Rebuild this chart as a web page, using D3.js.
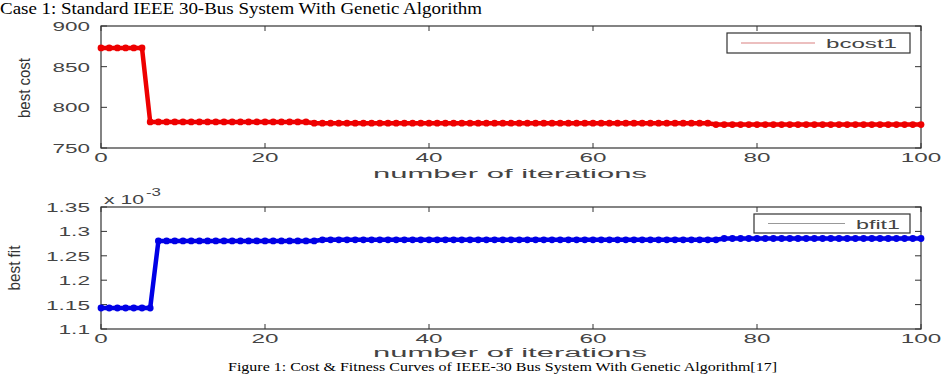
<!DOCTYPE html>
<html><head><meta charset="utf-8">
<script src="https://cdn.jsdelivr.net/npm/d3@7/dist/d3.min.js"></script>
<style>body{margin:0;background:#fff;}svg{display:block;}</style>
</head><body>
<svg id="c" width="948" height="374"></svg>
<script>
const iterations = d3.range(0, 101);
const bcost1 = [
873,873,873,873,873,873,782,782,782,782,
782,782,782,782,782,782,782,782,782,782,
782,782,782,782,782,782,780.5,780.5,780.5,780.5,
780.5,780.5,780.5,780.5,780.5,780.5,780.5,780.5,780.5,780.5,
780.5,780.5,780.5,780.5,780.5,780.5,780.5,780.5,780.5,780.5,
780.5,780.5,780.5,780.5,780.5,780.5,780.5,780.5,780.5,780.5,
780.5,780.5,780.5,780.5,780.5,780.5,780.5,780.5,780.5,780.5,
780.5,780.5,780.5,780.5,780.5,778.8,778.8,778.8,778.8,778.8,
778.8,778.8,778.8,778.8,778.8,778.8,778.8,778.8,778.8,778.8,
778.8,778.8,778.8,778.8,778.8,778.8,778.8,778.8,778.8,778.8,
778.8];
const bfit1 = [
1.143,1.143,1.143,1.143,1.143,1.143,1.143,1.2805,1.2805,1.2805,
1.2805,1.2805,1.2805,1.2805,1.2805,1.2805,1.2805,1.2805,1.2805,1.2805,
1.2805,1.2805,1.2805,1.2805,1.2805,1.2805,1.2805,1.2828,1.2828,1.2828,
1.2828,1.2828,1.2828,1.2828,1.2828,1.2828,1.2828,1.2828,1.2828,1.2828,
1.2828,1.2828,1.2828,1.2828,1.2828,1.2828,1.2828,1.2828,1.2828,1.2828,
1.2828,1.2828,1.2828,1.2828,1.2828,1.2828,1.2828,1.2828,1.2828,1.2828,
1.2828,1.2828,1.2828,1.2828,1.2828,1.2828,1.2828,1.2828,1.2828,1.2828,
1.2828,1.2828,1.2828,1.2828,1.2828,1.2828,1.2855,1.2855,1.2855,1.2855,
1.2855,1.2855,1.2855,1.2855,1.2855,1.2855,1.2855,1.2855,1.2855,1.2855,
1.2855,1.2855,1.2855,1.2855,1.2855,1.2855,1.2855,1.2855,1.2855,1.2855,
1.2855];
const xTicks = [0, 20, 40, 60, 80, 100];
const costTicks = [750, 800, 850, 900];
const fitTicks = [1.1, 1.15, 1.2, 1.25, 1.3, 1.35];
const fitTickLabels = ["1.1", "1.15", "1.2", "1.25", "1.3", "1.35"];

const svg = d3.select("#c");
const sans = "'Liberation Sans', Arial, sans-serif";
const serif = "'Liberation Serif', 'Times New Roman', serif";

function stretchText(g, txt, x, y, opts) {
  const t = g.append("text").attr("x", x).attr("y", y).text(txt)
    .attr("font-family", opts.family || sans)
    .attr("font-size", opts.size || 13)
    .attr("fill", opts.fill || "#222")
    .attr("text-anchor", opts.anchor || "start");
  if (opts.len) t.attr("textLength", opts.len).attr("lengthAdjust", "spacingAndGlyphs");
  if (opts.transform) t.attr("transform", opts.transform);
  return t;
}

stretchText(svg, "Case 1: Standard IEEE 30-Bus System With Genetic Algorithm", 0, 14,
  {family: serif, size: 16, len: 482, fill: "#000"});
stretchText(svg, "Figure 1: Cost & Fitness Curves of IEEE-30 Bus System With Genetic Algorithm[17]", 228, 371,
  {family: serif, size: 12.5, len: 549, fill: "#000"});

function panel(cfg) {
  const x = d3.scaleLinear().domain([0, 100]).range([101, 921]);
  const y = d3.scaleLinear().domain(cfg.domain).range([cfg.bottom, cfg.top]);
  const g = svg.append("g");
  g.append("rect").attr("x", 101).attr("y", cfg.top).attr("width", 820).attr("height", cfg.bottom - cfg.top)
    .attr("fill", "none").attr("stroke", "#333").attr("stroke-width", 1.2);
  xTicks.forEach(v => {
    g.append("line").attr("x1", x(v)).attr("x2", x(v)).attr("y1", cfg.bottom).attr("y2", cfg.bottom - 5).attr("stroke", "#333");
    g.append("line").attr("x1", x(v)).attr("x2", x(v)).attr("y1", cfg.top).attr("y2", cfg.top + 5).attr("stroke", "#333");
    stretchText(g, String(v), x(v), cfg.bottom + 14, {size: 12, anchor: "middle", len: String(v).length * 13.5, fill: "#444"});
  });
  cfg.ticks.forEach((v, i) => {
    g.append("line").attr("x1", 101).attr("x2", 107).attr("y1", y(v)).attr("y2", y(v)).attr("stroke", "#333");
    g.append("line").attr("x1", 921).attr("x2", 915).attr("y1", y(v)).attr("y2", y(v)).attr("stroke", "#333");
    const lab = cfg.labels[i];
    stretchText(g, lab, 90, y(v) + 5, {size: 12, anchor: "end", len: lab.length * 12.5 - (lab.includes(".") ? 6 : 0), fill: "#444"});
  });
  stretchText(g, "number of iterations", 510, cfg.bottom + cfg.titleOff, {size: 12, anchor: "middle", len: 274, fill: "#444"});
  stretchText(g, cfg.ylabel, 0, 0, {family: sans, size: 16, anchor: "middle", len: cfg.ylabelLen, fill: "#333",
    transform: `translate(${cfg.ylabelX},${cfg.ylabelY}) rotate(-90)`});
  const line = d3.line().x((d, i) => x(iterations[i])).y(d => y(d));
  g.append("path").datum(cfg.data).attr("d", line).attr("fill", "none")
    .attr("stroke", cfg.color).attr("stroke-width", 4.5).attr("stroke-linejoin", "round");
  g.selectAll("circle.m").data(cfg.data).enter().append("circle")
    .attr("cx", (d, i) => x(iterations[i])).attr("cy", d => y(d)).attr("r", 3.4).attr("fill", cfg.color);
  const L = cfg.legend;
  g.append("rect").attr("x", L.x).attr("y", L.y).attr("width", 910 - L.x).attr("height", L.h)
    .attr("fill", "#fff").attr("stroke", "#333").attr("stroke-width", 1.2);
  g.append("line").attr("x1", L.x + 14).attr("x2", L.lineEnd).attr("y1", L.y + L.h / 2).attr("y2", L.y + L.h / 2)
    .attr("stroke", L.lineColor).attr("stroke-width", 1.2);
  stretchText(g, cfg.name, L.lineEnd + 11, L.y + L.h / 2 + 5, {size: 13, len: L.textLen, fill: "#444"});
  return {x, y, g};
}

panel({domain: [750, 900], top: 26, bottom: 148, ticks: costTicks, labels: costTicks.map(String), titleOff: 30,
  data: bcost1, color: "#ee0000", ylabel: "best cost", ylabelX: 30, ylabelY: 88, ylabelLen: 60, name: "bcost1",
  legend: {x: 727, y: 33, h: 20, lineEnd: 815, lineColor: "#d98080", textLen: 71}});

panel({domain: [1.1, 1.35], top: 207, bottom: 329, ticks: fitTicks, labels: fitTickLabels, titleOff: 28,
  data: bfit1, color: "#0000e6", ylabel: "best fit", ylabelX: 20, ylabelY: 268, ylabelLen: 45, name: "bfit1",
  legend: {x: 754, y: 214, h: 19, lineEnd: 845, lineColor: "#999", textLen: 44}});

stretchText(svg, "x 10", 104, 204, {size: 12, len: 40, fill: "#444"});
stretchText(svg, "-3", 146, 196, {size: 11, len: 15, fill: "#444"});
</script>
</body></html>
